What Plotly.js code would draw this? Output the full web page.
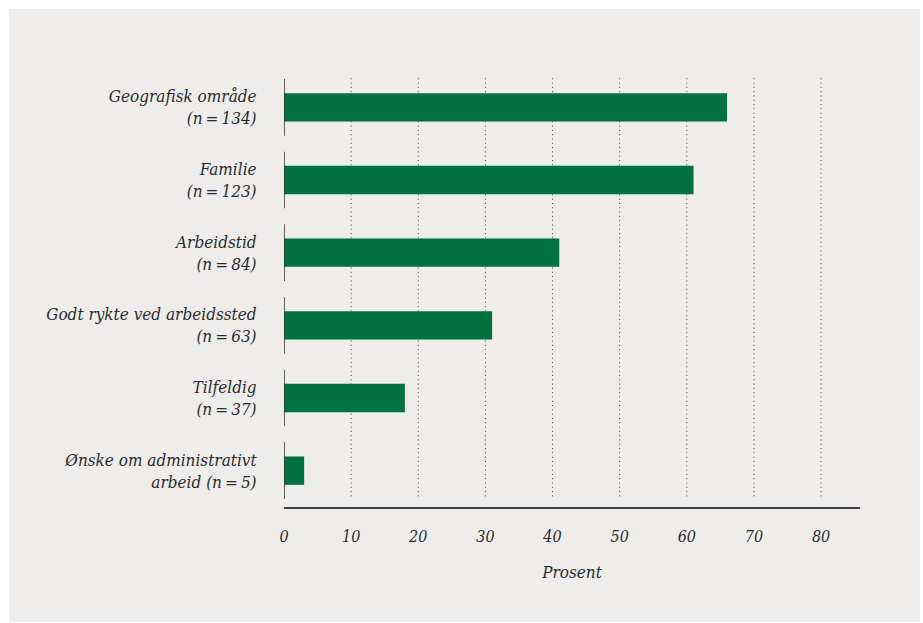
<!DOCTYPE html>
<html>
<head>
<meta charset="utf-8">
<script src="https://cdn.plot.ly/plotly-3.0.1.min.js"></script>
<style>
  html, body { margin: 0; padding: 0; background: #ffffff; width: 923px; height: 623px; overflow: hidden; }
  #bg { position: absolute; left: 9px; top: 9px; width: 911px; height: 613px; background: #eeedeb; }
  #chart { position: absolute; left: 0; top: 0; width: 923px; height: 623px; }
</style>
</head>
<body>
<div id="bg"></div>
<div id="chart"></div>
<script>
// Data
const categories = [
  "Geografisk område<br>(n\u2009=\u2009134)",
  "Familie<br>(n\u2009=\u2009123)",
  "Arbeidstid<br>(n\u2009=\u200984)",
  "Godt rykte ved arbeidssted<br>(n\u2009=\u200963)",
  "Tilfeldig<br>(n\u2009=\u200937)",
  "Ønske om administrativt<br>arbeid (n\u2009=\u20095)"
];
const values = [66, 61, 41, 31, 18, 3];
const xTicks = [0, 10, 20, 30, 40, 50, 60, 70, 80];
const xTitle = "Prosent";

const FONT = "'DejaVu Serif Condensed', 'DejaVu Serif', serif";
const TEXT = "#2b2b2b";
const GREEN = "#00723f";

const trace = {
  type: "bar",
  orientation: "h",
  x: values,
  y: categories,
  width: 0.39,
  marker: { color: GREEN, line: { width: 0 } },
  hoverinfo: "none"
};

const shapes = [];
// dotted vertical gridlines (skip 0)
xTicks.filter(t => t > 0).forEach(t => {
  shapes.push({
    type: "line", xref: "x", yref: "y",
    x0: t, x1: t, y0: -0.4, y1: categories.length - 1 + 0.4,
    line: { color: "#444444", width: 1, dash: "1px,3.3px" },
    layer: "below"
  });
});
// segmented y-axis line per category
categories.forEach((c, i) => {
  shapes.push({
    type: "line", xref: "x", yref: "y",
    x0: 0, x1: 0, y0: i - 0.39, y1: i + 0.39,
    line: { color: "#333333", width: 1.5 },
    layer: "above"
  });
});

const layout = {
  width: 923, height: 623,
  margin: { l: 284, r: 63, t: 71, b: 116, pad: 0 },
  paper_bgcolor: "rgba(0,0,0,0)",
  plot_bgcolor: "rgba(0,0,0,0)",
  showlegend: false,
  font: { family: FONT, color: TEXT, size: 16 },
  xaxis: {
    range: [0, 85.8],
    tickvals: xTicks,
    ticktext: xTicks.map(String),
    showgrid: false,
    zeroline: false,
    showline: true,
    linecolor: "#444444",
    linewidth: 1.5,
    ticks: "outside",
    ticklen: 14,
    tickcolor: "rgba(0,0,0,0)",
    tickfont: { family: FONT, size: 16, color: TEXT, style: "italic" },
    title: { text: xTitle, standoff: 21, font: { family: FONT, size: 17, color: TEXT, style: "italic" } },
    fixedrange: true
  },
  yaxis: {
    type: "category",
    categoryorder: "array",
    categoryarray: categories,
    range: [categories.length - 0.5, -0.5],
    showgrid: false,
    zeroline: false,
    showline: false,
    ticks: "outside",
    ticklen: 23,
    tickcolor: "rgba(0,0,0,0)",
    tickfont: { family: FONT, size: 17, color: TEXT, style: "italic" },
    fixedrange: true
  },
  shapes: shapes
};

Plotly.newPlot("chart", [trace], layout, { displayModeBar: false, staticPlot: true });
</script>
</body>
</html>
